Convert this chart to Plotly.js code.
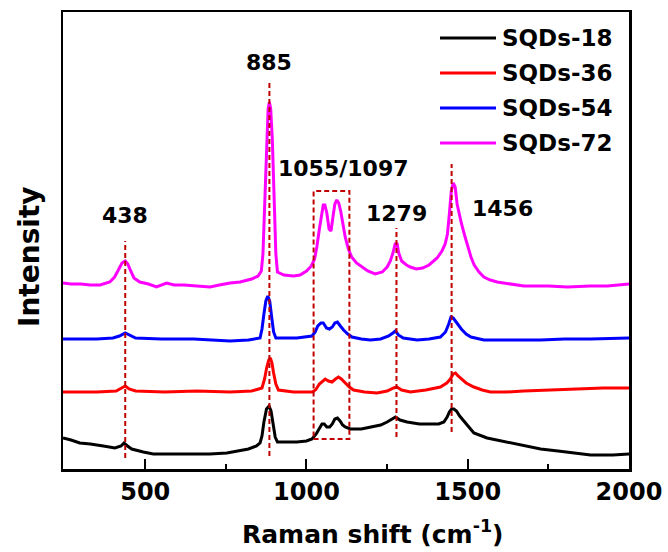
<!DOCTYPE html>
<html>
<head>
<meta charset="utf-8">
<script src="https://cdn.plot.ly/plotly-3.0.1.min.js"></script>
<style>html,body{margin:0;padding:0;background:#fff;}#chart{width:668px;height:552px;}</style>
</head>
<body>
<div id="chart"></div>
<script>
// Series names and colours
const seriesNames = ["SQDs-18", "SQDs-36", "SQDs-54", "SQDs-72"];
const seriesColors = ["#000000", "#ff0000", "#0000ff", "#ff00ff"];

// SQDs-18 (Raman shift, stacked intensity a.u.)
const shift18 = [245, 270, 297, 330, 370, 406, 425, 434, 445, 458, 494, 525, 560, 649, 700, 753, 794, 820, 845, 856, 862, 868, 876, 884, 890, 897, 903, 910, 940, 970, 1000, 1017, 1030, 1040, 1048, 1055, 1063, 1072, 1080, 1088, 1096, 1104, 1112, 1120, 1136, 1170, 1198, 1230, 1250, 1265, 1276, 1290, 1312, 1350, 1384, 1410, 1426, 1436, 1443, 1450, 1457, 1465, 1475, 1485, 1500, 1519, 1560, 1622, 1675, 1726, 1780, 1830, 1881, 1950, 2000];
const int18 = [31, 29, 26, 25, 23, 21, 23, 26, 23, 20, 17, 15, 15, 15, 15, 16, 18, 20, 23, 26, 33, 47, 60, 63, 58, 44, 32, 27, 27, 27, 28, 30, 35, 41, 45, 45, 42, 42, 45, 50, 51, 48, 44, 42, 40, 40, 42, 44, 47, 50, 52, 49, 47, 45, 45, 45, 47, 52, 57, 60, 60, 58, 53, 49, 43, 36, 31, 27, 23, 20, 18, 16, 14, 14, 15];

// SQDs-36
const shift36 = [245, 300, 350, 410, 428, 438, 450, 470, 560, 660, 763, 830, 862, 870, 877, 883, 888, 893, 898, 905, 913, 960, 1017, 1028, 1040, 1050, 1058, 1068, 1079, 1090, 1099, 1108, 1120, 1133, 1146, 1180, 1219, 1250, 1270, 1280, 1295, 1322, 1370, 1415, 1435, 1446, 1455, 1462, 1470, 1480, 1495, 1519, 1545, 1570, 1620, 1674, 1750, 1830, 1920, 2000];
const int36 = [77, 77, 77, 78, 81, 83, 80, 78, 77, 78, 77, 78, 81, 90, 102, 109, 111, 106, 96, 85, 79, 77, 77, 79, 85, 88, 90, 88, 87, 90, 92, 90, 86, 82, 79, 77, 76, 78, 81, 82, 79, 77, 79, 82, 86, 90, 95, 96, 93, 90, 86, 82, 79, 77, 77, 78, 79, 80, 81, 81];

// SQDs-54
const shift54 = [245, 300, 350, 400, 420, 438, 450, 470, 550, 650, 763, 820, 856, 862, 868, 874, 880, 886, 892, 898, 905, 970, 1017, 1027, 1035, 1045, 1052, 1062, 1071, 1080, 1088, 1096, 1105, 1115, 1128, 1141, 1170, 1198, 1230, 1255, 1268, 1276, 1285, 1300, 1343, 1380, 1415, 1431, 1441, 1448, 1455, 1462, 1470, 1480, 1495, 1510, 1550, 1650, 1726, 1800, 1881, 2000];
const int54 = [130, 130, 130, 131, 133, 136, 134, 131, 130, 130, 128, 129, 131, 140, 155, 168, 173, 168, 152, 137, 131, 131, 133, 137, 143, 146, 146, 141, 140, 142, 146, 147, 143, 139, 135, 132, 130, 129, 130, 133, 136, 138, 134, 131, 129, 130, 132, 137, 145, 152, 151, 148, 144, 140, 135, 132, 129, 129, 129, 130, 130, 131];

// SQDs-72
const shift72 = [245, 270, 300, 330, 360, 390, 405, 418, 428, 438, 446, 455, 465, 483, 510, 535, 550, 566, 590, 620, 660, 701, 730, 763, 794, 830, 850, 860, 865, 870, 876, 881, 885, 889, 894, 900, 905, 910, 930, 960, 980, 1000, 1015, 1025, 1032, 1040, 1047, 1052, 1057, 1063, 1070, 1076, 1082, 1088, 1094, 1100, 1106, 1112, 1120, 1130, 1140, 1155, 1172, 1190, 1213, 1235, 1250, 1260, 1268, 1275, 1281, 1286, 1295, 1310, 1322, 1340, 1360, 1380, 1405, 1420, 1430, 1437, 1443, 1449, 1455, 1461, 1467, 1473, 1480, 1490, 1500, 1510, 1520, 1535, 1550, 1570, 1591, 1630, 1674, 1750, 1809, 1880, 1933, 2000];
const int72 = [186, 185, 185, 184, 184, 187, 192, 200, 206, 208, 205, 198, 191, 187, 185, 182, 184, 186, 184, 184, 183, 182, 184, 186, 187, 190, 193, 198, 215, 260, 330, 360, 367, 360, 330, 260, 215, 197, 194, 193, 194, 198, 203, 210, 222, 240, 256, 264, 264, 256, 240, 238, 252, 265, 269, 266, 258, 245, 232, 220, 212, 206, 202, 198, 195, 197, 202, 208, 216, 225, 225, 216, 208, 204, 202, 200, 201, 204, 211, 218, 225, 235, 255, 278, 286, 282, 265, 255, 246, 234, 222, 212, 204, 197, 192, 189, 187, 185, 183, 183, 182, 183, 183, 185];

// Peak marker lines: position, top, bottom
const peakShift = [438, 885, 1279, 1450];
const peakTop = [228, 388, 241, 305];
const peakBottom = [11, 13, 32, 37];
// Dashed box around 1055/1097 doublet
const boxShift = [1022, 1133];
const boxLevel = [30, 278];
// Peak labels
const labelText = ["438", "885", "1055/1097", "1279", "1456"];
const labelShift = [438, 884, 1114, 1278, 1607];
const labelLevel = [254, 407, 301, 256, 261];

const xTicks = [500, 1000, 1500, 2000];

const shifts = [shift18, shift36, shift54, shift72];
const ints = [int18, int36, int54, int72];

const traces = seriesNames.map((n, i) => ({
  type: "scatter", mode: "lines", name: n,
  x: shifts[i], y: ints[i],
  line: {color: seriesColors[i], width: 3},
  showlegend: false
}));

const F = "DejaVu Sans";
const dashColor = "#c00000";
const shapes = [];
peakShift.forEach((p, i) => {
  shapes.push({type: "line", xref: "x", yref: "y", x0: p, x1: p, y0: peakBottom[i], y1: peakTop[i],
    line: {color: dashColor, width: 2, dash: "5px,3px"}});
});
shapes.push({type: "rect", xref: "x", yref: "y", x0: boxShift[0], x1: boxShift[1], y0: boxLevel[0], y1: boxLevel[1],
  line: {color: dashColor, width: 2, dash: "5px,3px"}});

const annotations = labelText.map((t, i) => ({
  text: "<b>" + t + "</b>", x: labelShift[i], y: labelLevel[i], xref: "x", yref: "y",
  showarrow: false, xanchor: "center", yanchor: "middle",
  font: {family: F, size: 22, color: "#000"}
}));

// Custom legend (paper coords)
const plotL = 63, plotR = 629, plotT = 12, plotB = 469;
const px = v => (v - plotL) / (plotR - plotL);
const py = v => (plotB - v) / (plotB - plotT);
const legendRows = [38, 73, 108, 143];
seriesNames.forEach((n, i) => {
  shapes.push({type: "line", xref: "paper", yref: "paper", x0: px(440), x1: px(496), y0: py(legendRows[i]), y1: py(legendRows[i]),
    line: {color: seriesColors[i], width: 3}});
  annotations.push({text: "<b>" + n + "</b>", xref: "paper", yref: "paper", x: px(500), y: py(legendRows[i]),
    xanchor: "left", yanchor: "middle", showarrow: false, font: {family: F, size: 23, color: "#000"}});
});

// Axis titles
annotations.push({text: "<b>Raman shift (cm<sup>-1</sup>)</b>", xref: "paper", yref: "paper", x: px(373), y: py(532),
  xanchor: "center", yanchor: "middle", showarrow: false, font: {family: F, size: 25, color: "#000"}});
annotations.push({text: "<b>Intensity</b>", xref: "paper", yref: "paper", x: px(29), y: py(257), textangle: -90,
  xanchor: "center", yanchor: "middle", showarrow: false, font: {family: F, size: 28, color: "#000"}});

const layout = {
  width: 668, height: 552,
  margin: {l: plotL, r: 668 - plotR, t: plotT, b: 552 - plotB, pad: 0},
  paper_bgcolor: "#fff", plot_bgcolor: "#fff",
  xaxis: {
    range: [245, 2000], tickvals: xTicks, ticktext: xTicks.map(String),
    ticks: "inside", ticklen: 10, tickwidth: 2, tickcolor: "#000",
    minor: {tickvals: [750, 1250, 1750], ticks: "inside", ticklen: 5, tickwidth: 2, tickcolor: "#000"},
    showline: true, linecolor: "#000", linewidth: 2.5, mirror: true,
    showgrid: false, zeroline: false,
    tickfont: {family: F, size: 24, color: "#000", weight: "bold"}
  },
  yaxis: {
    range: [0, 457], showticklabels: false, ticks: "",
    showline: true, linecolor: "#000", linewidth: 2.5, mirror: true,
    showgrid: false, zeroline: false
  },
  shapes: shapes, annotations: annotations, showlegend: false
};

Plotly.newPlot("chart", traces, layout, {staticPlot: true, displayModeBar: false});
</script>
</body>
</html>
